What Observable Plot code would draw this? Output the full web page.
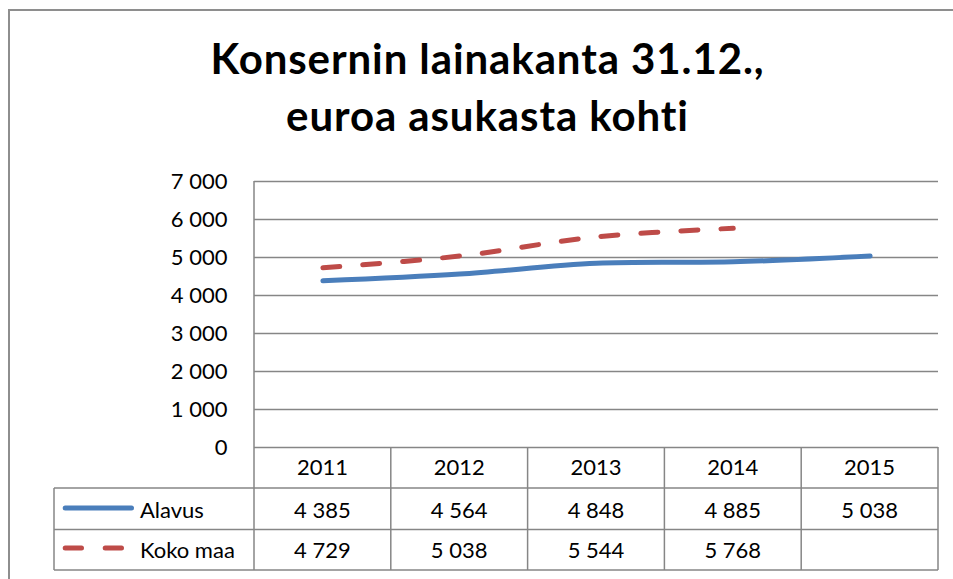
<!DOCTYPE html>
<html>
<head>
<meta charset="utf-8">
<script src="https://cdn.jsdelivr.net/npm/d3@7"></script>
<script src="https://cdn.jsdelivr.net/npm/@observablehq/plot@0.6"></script>
<style>
  body { margin: 0; background: #fff; }
  #wrap { position: relative; width: 953px; height: 579px; overflow: hidden; background: #fff; }
  #frame { position: absolute; left: 8px; top: 9px; width: 960px; height: 600px; border: 2px solid #8e8e8e; box-sizing: border-box; }
  #chart { position: absolute; left: 0; top: 0; }
  #title { position: absolute; left: 0; top: 30px; width: 975px; text-align: center; font-family: Lato, "Open Sans", sans-serif; font-weight: bold; font-size: 42px; letter-spacing: 0.9px; line-height: 57px; color: #000; z-index: 2; }
</style>
</head>
<body>
<div id="wrap">
  <div id="frame"></div>
  <div id="chart"></div>
  <div id="title">Konsernin lainakanta 31.12.,<br>euroa asukasta kohti</div>
</div>
<script>
const years = [2011, 2012, 2013, 2014, 2015];
const alavus = [4385, 4564, 4848, 4885, 5038];
const kokoMaa = [4729, 5038, 5544, 5768, null];
const seriesNames = ["Alavus", "Koko maa"];
const seriesColors = ["#4a7ebb", "#be4b48"];
const yTicks = [0, 1000, 2000, 3000, 4000, 5000, 6000, 7000];

const fmt = d3.formatLocale({decimal: ",", thousands: "\u00a0", grouping: [3], currency: ["", "€"]}).format(",");

const alavusRows = years.map((year, i) => ({year, value: alavus[i]}));
const kokoRows = years.map((year, i) => ({year, value: kokoMaa[i]}));
const seriesRows = [alavusRows, kokoRows];

const gridColor = "#868686";
const fontFam = "Lato, 'Open Sans', sans-serif";

// data table under the chart, drawn with Plot's x scale
function dataTable(index, scales, values, dims) {
  const x = scales.x;
  const bottom = dims.height - dims.marginBottom;
  const top = dims.marginTop;
  const left = dims.marginLeft;
  const right = dims.width - dims.marginRight;
  const legendLeft = 54;
  const rowLines = [bottom + 41, bottom + 82.5, bottom + 123];
  const rowCenters = [bottom + 20, bottom + 63, bottom + 103];
  const g = d3.create("svg:g");
  const line = (x1, y1, x2, y2) => g.append("line").attr("x1", x1).attr("y1", y1).attr("x2", x2).attr("y2", y2)
    .attr("stroke", gridColor).attr("stroke-width", 1.5);
  // vertical lines
  line(left, top, left, rowLines[2]);
  years.forEach(yr => line(x(yr + 0.5), bottom, x(yr + 0.5), rowLines[2]));
  line(legendLeft, rowLines[0], legendLeft, rowLines[2]);
  // horizontal lines
  rowLines.forEach(yy => line(legendLeft, yy, right, yy));
  const txt = (cx, cy, s, anchor) => g.append("text")
    .attr("x", cx).attr("y", cy)
    .attr("text-anchor", anchor).attr("dy", "0.36em")
    .attr("font-family", fontFam).attr("font-size", 22).attr("fill", "#000").text(s);
  // header row
  years.forEach(yr => txt(x(yr), rowCenters[0], String(yr), "middle"));
  // value rows
  seriesRows.forEach((rows, r) => rows.forEach(d => { if (d.value != null) txt(x(d.year), rowCenters[r + 1], fmt(d.value), "middle"); }));
  // legend
  seriesNames.forEach((name, r) => {
    const cy = rowCenters[r + 1] - 2;
    const sw = g.append("line").attr("x1", 65.2).attr("x2", r === 0 ? 131.5 : 122.5).attr("y1", cy).attr("y2", cy)
      .attr("stroke", seriesColors[r]).attr("stroke-width", 5).attr("stroke-linecap", "round");
    if (r === 1) sw.attr("stroke-dasharray", "16.3,23.7");
    txt(140, rowCenters[r + 1], name, "start");
  });
  return g.node();
}

const chart = Plot.plot({
  width: 953,
  height: 579,
  marginLeft: 254,
  marginRight: 15,
  marginTop: 181,
  marginBottom: 132,
  x: {type: "linear", domain: [years[0] - 0.5, years[years.length - 1] + 0.5], axis: null},
  y: {domain: [0, 7000], axis: null},
  style: {fontFamily: fontFam, fontSize: "22px", background: "transparent", overflow: "visible", color: "#000"},
  marks: [
    Plot.ruleY(yTicks, {stroke: gridColor, strokeWidth: 1.5, strokeOpacity: 1}),
    Plot.text(yTicks, {y: d => d, frameAnchor: "left", dx: -27, textAnchor: "end", text: d => fmt(d), fontSize: 22, fill: "#000"}),
    Plot.line(alavusRows, {x: "year", y: "value", stroke: seriesColors[0], strokeWidth: 5, strokeLinecap: "round", curve: "catmull-rom"}),
    Plot.line(kokoRows.filter(d => d.value != null), {x: "year", y: "value", stroke: seriesColors[1], strokeWidth: 5, strokeLinecap: "round", strokeDasharray: "17,23", curve: "catmull-rom"}),
    dataTable
  ]
});
document.getElementById("chart").appendChild(chart);
</script>
</body>
</html>
